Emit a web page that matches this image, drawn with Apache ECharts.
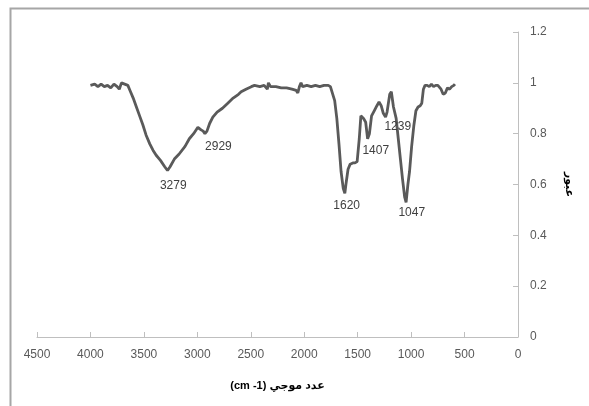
<!DOCTYPE html>
<html>
<head>
<meta charset="utf-8">
<script src="https://cdn.jsdelivr.net/npm/echarts@6/dist/echarts.min.js"></script>
<style>
html,body{margin:0;padding:0;background:#fff;}
#chart{width:589px;height:406px;}
</style>
</head>
<body>
<div id="chart"></div>
<script>
// Wavenumber (cm-1) and transmittance values
const wavenumbers = [4000,3960,3930,3900,3870,3840,3810,3780,3750,3730,3710,3680,3650,3630,3600,3570,3540,3510,3480,3445,3415,3385,3345,3305,3279,3255,3215,3170,3115,3075,3035,2995,2965,2945,2929,2910,2885,2855,2815,2765,2715,2665,2615,2590,2545,2495,2465,2415,2375,2345,2335,2315,2265,2215,2165,2115,2075,2060,2045,2030,2015,1975,1935,1895,1855,1815,1775,1755,1715,1695,1675,1655,1635,1620,1610,1590,1570,1545,1525,1505,1485,1470,1445,1425,1407,1390,1370,1345,1320,1300,1280,1260,1239,1225,1200,1185,1165,1140,1120,1100,1080,1060,1047,1030,1015,995,975,955,935,915,900,885,870,850,830,810,790,770,750,720,700,680,660,640,620,600,590];
const transmittance = [0.99,0.995,0.985,0.995,0.985,0.99,0.98,0.995,0.985,0.975,1.0,0.995,0.99,0.97,0.94,0.905,0.87,0.835,0.795,0.76,0.735,0.715,0.695,0.67,0.655,0.67,0.70,0.72,0.75,0.78,0.80,0.825,0.815,0.81,0.80,0.81,0.84,0.865,0.885,0.90,0.92,0.94,0.955,0.965,0.975,0.985,0.99,0.985,0.99,0.975,1.0,0.985,0.985,0.98,0.98,0.975,0.97,0.96,0.985,1.0,0.985,0.99,0.985,0.99,0.985,0.99,0.99,0.985,0.93,0.86,0.76,0.65,0.585,0.565,0.60,0.66,0.68,0.685,0.685,0.69,0.78,0.87,0.86,0.845,0.78,0.80,0.87,0.89,0.91,0.925,0.91,0.88,0.865,0.885,0.955,0.965,0.905,0.86,0.78,0.70,0.62,0.55,0.53,0.60,0.65,0.75,0.83,0.89,0.905,0.91,0.92,0.975,0.99,0.99,0.985,0.995,0.985,0.99,0.99,0.975,0.955,0.96,0.98,0.975,0.985,0.99,0.995];

// Peak annotations: text and label anchor (wavenumber, transmittance)
const peakLabels = ['3279','2929','1620','1407','1239','1047'];
const peakLabelX = [3225,2803,1603,1331,1125,994];
const peakLabelY = [0.594,0.748,0.516,0.732,0.827,0.488];

const xTicks = {min:0, max:4500, interval:500};
const yTicks = {min:0, max:1.2, interval:0.2};

const seriesData = wavenumbers.map((w,i)=>[w, transmittance[i]]);
const markData = peakLabels.map((t,i)=>({coord:[peakLabelX[i], peakLabelY[i]], value:t}));

const FONT = '"Liberation Sans", "DejaVu Sans", sans-serif';
const chart = echarts.init(document.getElementById('chart'));
chart.setOption({
  animation:false,
  backgroundColor:'#fff',
  textStyle:{fontFamily:FONT},
  graphic:[{
    type:'rect', silent:true, z:-1,
    shape:{x:10.5, y:8.5, width:700, height:500},
    style:{fill:'none', stroke:'#a6a6a6', lineWidth:2}
  }],
  grid:{left:37, right:71, top:32, bottom:69, containLabel:false},
  xAxis:{
    type:'value', inverse:true,
    min:xTicks.min, max:xTicks.max, interval:xTicks.interval,
    name:'(cm -1) عدد موجي',
    nameLocation:'middle', nameGap:43,
    nameTextStyle:{color:'#000', fontSize:11, fontWeight:'bold', fontFamily:FONT},
    axisLine:{show:true, onZero:false, lineStyle:{color:'#bfbfbf', width:1}},
    axisTick:{show:true, inside:true, length:5, lineStyle:{color:'#bfbfbf'}},
    axisLabel:{color:'#595959', fontSize:12, margin:12, fontFamily:FONT, formatter:v=>String(v)},
    splitLine:{show:false}
  },
  yAxis:{
    type:'value', position:'right',
    min:yTicks.min, max:yTicks.max, interval:yTicks.interval,
    name:'عبور',
    nameLocation:'middle', nameGap:46, nameRotate:-90,
    nameTextStyle:{color:'#000', fontSize:11, fontWeight:'bold', fontFamily:FONT},
    axisLine:{show:true, lineStyle:{color:'#bfbfbf', width:1}},
    axisTick:{show:true, inside:true, length:5, lineStyle:{color:'#bfbfbf'}},
    axisLabel:{color:'#595959', fontSize:12, margin:12, fontFamily:FONT, formatter:v=>String(+v.toFixed(1))},
    splitLine:{show:false}
  },
  series:[{
    type:'line',
    data:seriesData,
    showSymbol:false,
    symbol:'none',
    lineStyle:{color:'#5a5a5a', width:2.8},
    markPoint:{
      symbol:'circle', symbolSize:0,
      label:{show:true, position:'inside', formatter:p=>p.value, color:'#404040', fontSize:12, fontFamily:FONT},
      data:markData
    }
  }]
});
</script>
</body>
</html>
